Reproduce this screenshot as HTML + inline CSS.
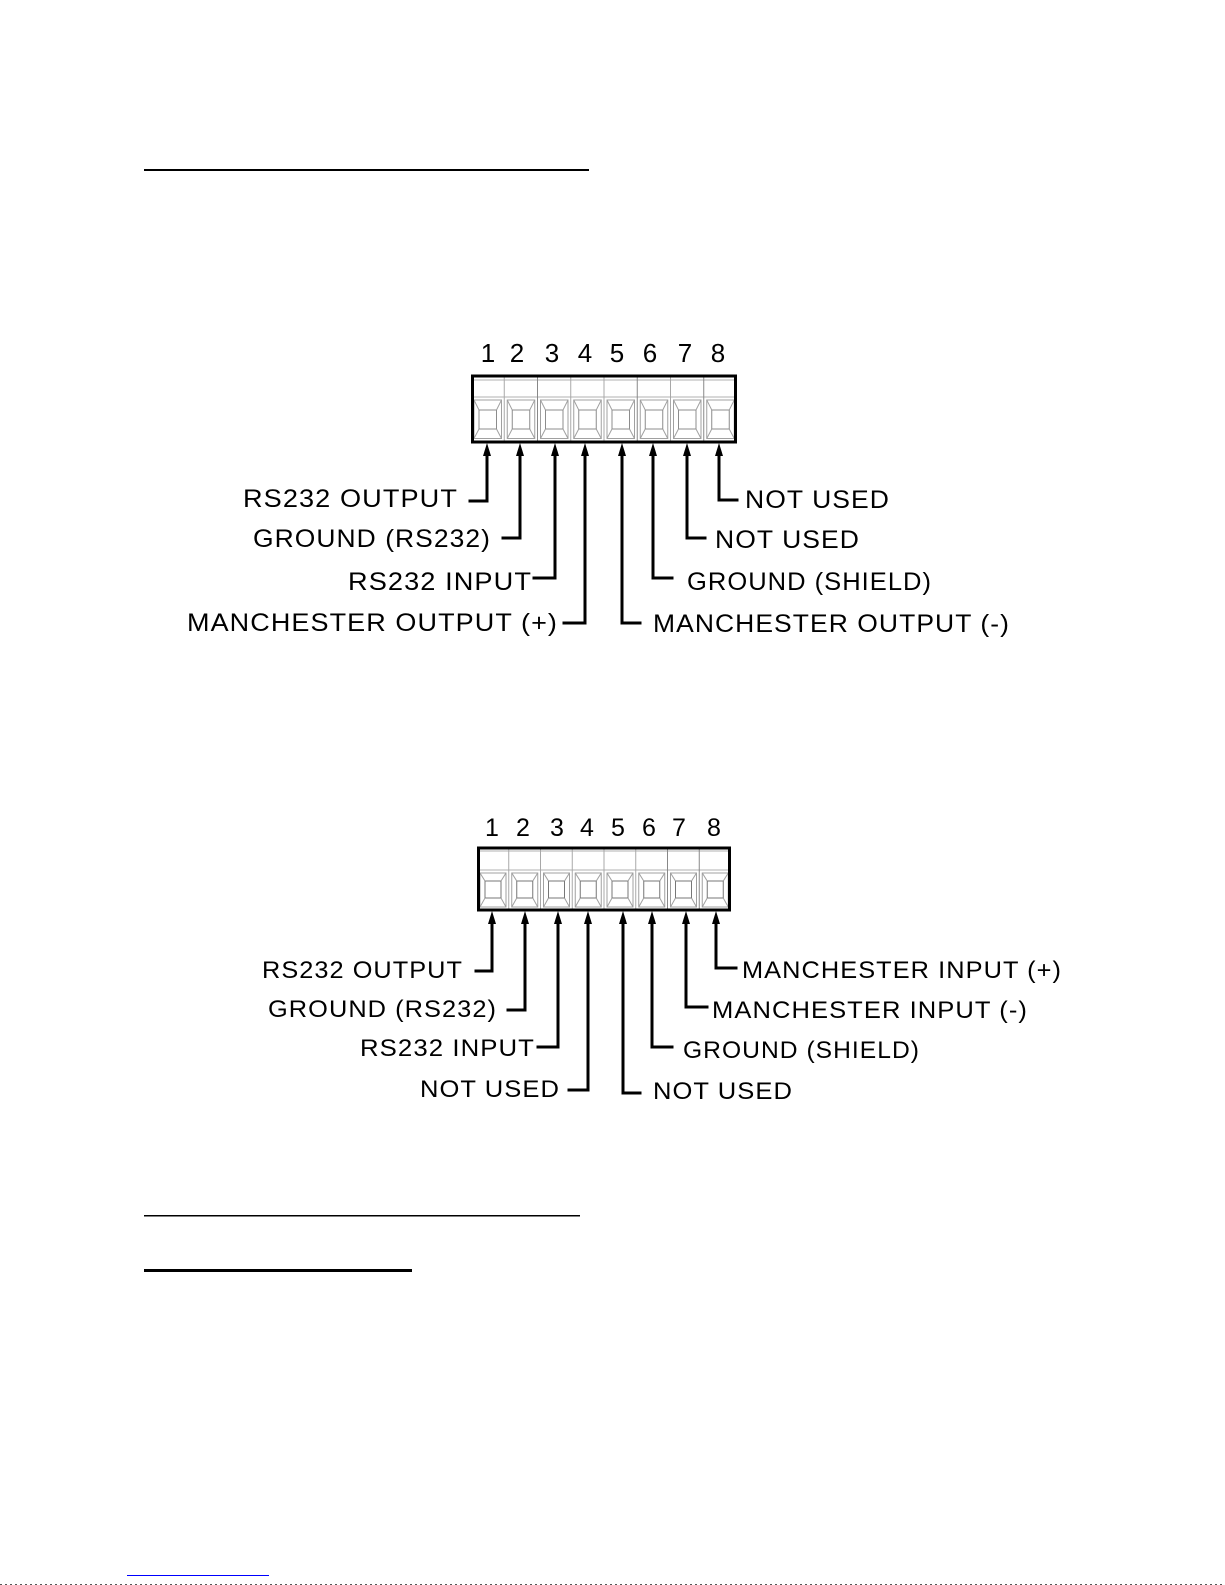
<!DOCTYPE html>
<html>
<head>
<meta charset="utf-8">
<style>
  html,body{margin:0;padding:0;background:#fff;}
  svg{display:block;}
  text{font-family:"Liberation Sans", Arial, sans-serif; fill:#000;}
  .lb text{letter-spacing:1px;}
</style>
</head>
<body>
<svg width="1225" height="1585" viewBox="0 0 1225 1585" xmlns="http://www.w3.org/2000/svg">
  <defs>
    <g id="c1">
      <rect x="3" y="400" width="27.5" height="38.5" fill="none" stroke="#a0a0a0" stroke-width="1"/>
      <rect x="8" y="410" width="17.5" height="19" fill="none" stroke="#8c8c8c" stroke-width="1"/>
      <line x1="3" y1="400" x2="8" y2="410" stroke="#a0a0a0" stroke-width="1"/>
      <line x1="30.5" y1="400" x2="25.5" y2="410" stroke="#a0a0a0" stroke-width="1"/>
      <line x1="3" y1="438.5" x2="8" y2="429" stroke="#a0a0a0" stroke-width="1"/>
      <line x1="30.5" y1="438.5" x2="25.5" y2="429" stroke="#a0a0a0" stroke-width="1"/>
    </g>
    <g id="c2">
      <rect x="3" y="873" width="26" height="34" fill="none" stroke="#a0a0a0" stroke-width="1"/>
      <rect x="8" y="881" width="16" height="17" fill="none" stroke="#777" stroke-width="1"/>
      <line x1="3" y1="873" x2="8" y2="881" stroke="#a0a0a0" stroke-width="1"/>
      <line x1="29" y1="873" x2="24" y2="881" stroke="#a0a0a0" stroke-width="1"/>
      <line x1="3" y1="907" x2="8" y2="898" stroke="#a0a0a0" stroke-width="1"/>
      <line x1="29" y1="907" x2="24" y2="898" stroke="#a0a0a0" stroke-width="1"/>
    </g>
  </defs>

  <!-- top rule -->
  <rect x="144" y="169" width="445" height="2" fill="#000"/>

  <!-- ===== CONNECTOR 1 ===== -->
  <g font-size="26">
    <text x="488" y="362" text-anchor="middle">1</text>
    <text x="517" y="362" text-anchor="middle">2</text>
    <text x="552" y="362" text-anchor="middle">3</text>
    <text x="585" y="362" text-anchor="middle">4</text>
    <text x="617" y="362" text-anchor="middle">5</text>
    <text x="650" y="362" text-anchor="middle">6</text>
    <text x="685" y="362" text-anchor="middle">7</text>
    <text x="718" y="362" text-anchor="middle">8</text>
  </g>
  <line x1="472" y1="380" x2="736" y2="380" stroke="#b0b0b0" stroke-width="1"/>
  <line x1="472" y1="397" x2="736" y2="397" stroke="#b0b0b0" stroke-width="1"/>
  <g stroke="#a8a8a8" stroke-width="1">
    <line x1="504.25" y1="376" x2="504.25" y2="442"/>
    <line x1="537.5" y1="376" x2="537.5" y2="442" stroke="#888"/>
    <line x1="570.75" y1="376" x2="570.75" y2="442"/>
    <line x1="604" y1="376" x2="604" y2="442"/>
    <line x1="637.25" y1="376" x2="637.25" y2="442" stroke="#888"/>
    <line x1="670.5" y1="376" x2="670.5" y2="442"/>
    <line x1="703.75" y1="376" x2="703.75" y2="442" stroke="#888"/>
  </g>
  <use href="#c1" transform="translate(471,0)"/>
  <use href="#c1" transform="translate(504.25,0)"/>
  <use href="#c1" transform="translate(537.5,0)"/>
  <use href="#c1" transform="translate(570.75,0)"/>
  <use href="#c1" transform="translate(604,0)"/>
  <use href="#c1" transform="translate(637.25,0)"/>
  <use href="#c1" transform="translate(670.5,0)"/>
  <use href="#c1" transform="translate(703.75,0)"/>
  <rect x="472.5" y="376" width="263" height="66" fill="none" stroke="#000" stroke-width="3"/>

  <g fill="#000">
    <polygon points="487,443 483,456 491,456"/>
    <polygon points="520,443 516,456 524,456"/>
    <polygon points="555,443 551,456 559,456"/>
    <polygon points="585,443 581,456 589,456"/>
    <polygon points="622,443 618,456 626,456"/>
    <polygon points="653,443 649,456 657,456"/>
    <polygon points="687,443 683,456 691,456"/>
    <polygon points="719,443 715,456 723,456"/>
  </g>
  <g stroke="#000" stroke-width="3" fill="none" stroke-linecap="square">
    <polyline points="487,452 487,501 470,501"/>
    <polyline points="520,452 520,538 503,538"/>
    <polyline points="555,452 555,578 534,578"/>
    <polyline points="585,452 585,623 564,623"/>
    <polyline points="622,452 622,623 640,623"/>
    <polyline points="653,452 653,578 672,578"/>
    <polyline points="687,452 687,538 705,538"/>
    <polyline points="719,452 719,500 737,500"/>
  </g>
  <g font-size="25" class="lb">
    <text x="243" y="507" textLength="215" lengthAdjust="spacingAndGlyphs">RS232 OUTPUT</text>
    <text x="253" y="547" textLength="238" lengthAdjust="spacingAndGlyphs">GROUND (RS232)</text>
    <text x="348" y="590" textLength="184" lengthAdjust="spacingAndGlyphs">RS232 INPUT</text>
    <text x="187" y="631" textLength="371" lengthAdjust="spacingAndGlyphs">MANCHESTER OUTPUT (+)</text>
    <text x="745" y="508" textLength="145" lengthAdjust="spacingAndGlyphs">NOT USED</text>
    <text x="715" y="548" textLength="145" lengthAdjust="spacingAndGlyphs">NOT USED</text>
    <text x="687" y="590" textLength="245" lengthAdjust="spacingAndGlyphs">GROUND (SHIELD)</text>
    <text x="653" y="632" textLength="357" lengthAdjust="spacingAndGlyphs">MANCHESTER OUTPUT (-)</text>
  </g>

  <!-- ===== CONNECTOR 2 ===== -->
  <g font-size="25">
    <text x="492" y="836" text-anchor="middle">1</text>
    <text x="523" y="836" text-anchor="middle">2</text>
    <text x="557" y="836" text-anchor="middle">3</text>
    <text x="587" y="836" text-anchor="middle">4</text>
    <text x="618" y="836" text-anchor="middle">5</text>
    <text x="649" y="836" text-anchor="middle">6</text>
    <text x="679" y="836" text-anchor="middle">7</text>
    <text x="714" y="836" text-anchor="middle">8</text>
  </g>
  <line x1="478" y1="851" x2="730" y2="851" stroke="#b0b0b0" stroke-width="1"/>
  <line x1="478" y1="870" x2="730" y2="870" stroke="#b0b0b0" stroke-width="1"/>
  <g stroke="#a8a8a8" stroke-width="1">
    <line x1="508.75" y1="848" x2="508.75" y2="910"/>
    <line x1="540.5" y1="848" x2="540.5" y2="910"/>
    <line x1="572.25" y1="848" x2="572.25" y2="910"/>
    <line x1="604" y1="848" x2="604" y2="910"/>
    <line x1="635.75" y1="848" x2="635.75" y2="910"/>
    <line x1="667.5" y1="848" x2="667.5" y2="910" stroke="#888"/>
    <line x1="699.25" y1="848" x2="699.25" y2="910" stroke="#888"/>
  </g>
  <use href="#c2" transform="translate(477,0)"/>
  <use href="#c2" transform="translate(508.75,0)"/>
  <use href="#c2" transform="translate(540.5,0)"/>
  <use href="#c2" transform="translate(572.25,0)"/>
  <use href="#c2" transform="translate(604,0)"/>
  <use href="#c2" transform="translate(635.75,0)"/>
  <use href="#c2" transform="translate(667.5,0)"/>
  <use href="#c2" transform="translate(699.25,0)"/>
  <rect x="478.5" y="848" width="251" height="62" fill="none" stroke="#000" stroke-width="3"/>

  <g fill="#000">
    <polygon points="492,911 488,924 496,924"/>
    <polygon points="525,911 521,924 529,924"/>
    <polygon points="558,911 554,924 562,924"/>
    <polygon points="588,911 584,924 592,924"/>
    <polygon points="623,911 619,924 627,924"/>
    <polygon points="652,911 648,924 656,924"/>
    <polygon points="686,911 682,924 690,924"/>
    <polygon points="716,911 712,924 720,924"/>
  </g>
  <g stroke="#000" stroke-width="3" fill="none" stroke-linecap="square">
    <polyline points="492,920 492,971 476,971"/>
    <polyline points="525,920 525,1010 508,1010"/>
    <polyline points="558,920 558,1047 538,1047"/>
    <polyline points="588,920 588,1090 569,1090"/>
    <polyline points="623,920 623,1093 640,1093"/>
    <polyline points="652,920 652,1047 672,1047"/>
    <polyline points="686,920 686,1007 707,1007"/>
    <polyline points="716,920 716,968 736,968"/>
  </g>
  <g font-size="24" class="lb">
    <text x="262" y="978" textLength="201" lengthAdjust="spacingAndGlyphs">RS232 OUTPUT</text>
    <text x="268" y="1017" textLength="229" lengthAdjust="spacingAndGlyphs">GROUND (RS232)</text>
    <text x="360" y="1056" textLength="175" lengthAdjust="spacingAndGlyphs">RS232 INPUT</text>
    <text x="420" y="1097" textLength="140" lengthAdjust="spacingAndGlyphs">NOT USED</text>
    <text x="742" y="978" textLength="320" lengthAdjust="spacingAndGlyphs">MANCHESTER INPUT (+)</text>
    <text x="712" y="1018" textLength="316" lengthAdjust="spacingAndGlyphs">MANCHESTER INPUT (-)</text>
    <text x="683" y="1058" textLength="237" lengthAdjust="spacingAndGlyphs">GROUND (SHIELD)</text>
    <text x="653" y="1099" textLength="140" lengthAdjust="spacingAndGlyphs">NOT USED</text>
  </g>

  <!-- bottom rules -->
  <rect x="144" y="1215" width="436" height="1.5" fill="#000"/>
  <rect x="144" y="1269" width="268" height="3" fill="#000"/>

  <!-- footer -->
  <rect x="127" y="1575" width="142" height="1" fill="#0000ff"/>
  <line x1="0" y1="1584.5" x2="1225" y2="1584.5" stroke="#555" stroke-width="1" stroke-dasharray="2 3"/>
</svg>
</body>
</html>
